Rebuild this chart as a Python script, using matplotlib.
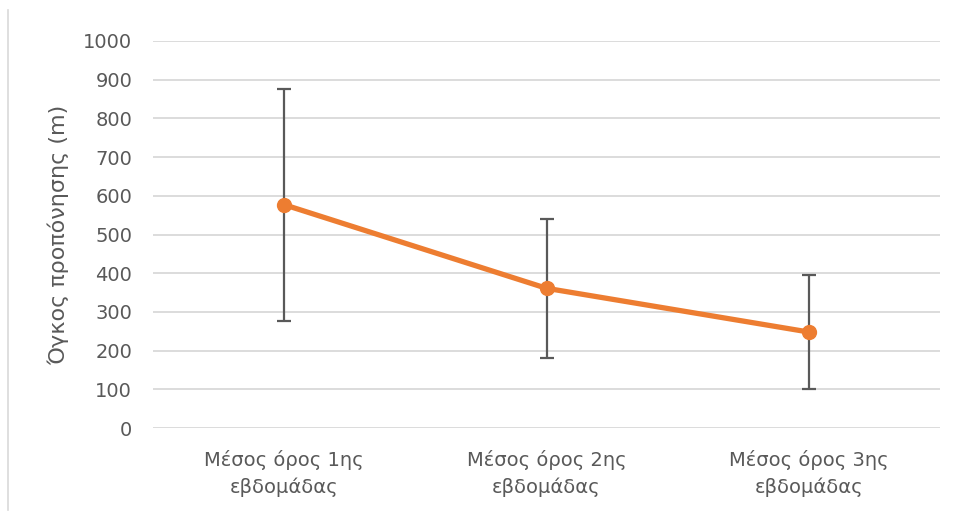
import matplotlib
matplotlib.use("Agg")
import matplotlib.pyplot as plt
from matplotlib.lines import Line2D

categories = ["Μέσος όρος 1ης\nεβδομάδας", "Μέσος όρος 2ης\nεβδομάδας", "Μέσος όρος 3ης\nεβδομάδας"]
means = [577, 361, 248]
errors = [300, 179, 147]
yticks = [0, 100, 200, 300, 400, 500, 600, 700, 800, 900, 1000]

plt.rcParams['font.family'] = ['DejaVu Sans']
fig = plt.figure(figsize=(9.61, 5.16), dpi=100)
ax = fig.add_axes([153/961, 1 - 428/516, (940-153)/961, (428-41)/516])

x = list(range(len(categories)))
ax.errorbar(x, means, yerr=errors, fmt='none', ecolor='#595959', elinewidth=1.6,
            capsize=5, capthick=1.6, zorder=3)
ax.plot(x, means, color='#ED7D31', lw=3.8, marker='o', markersize=10,
        zorder=4, solid_capstyle='round')

ax.set_xlim(-0.5, len(categories) - 0.5)
ax.set_ylim(0, 1000)
ax.set_yticks(yticks)
ax.set_yticklabels([str(v) for v in yticks], fontsize=14, color='#595959')
ax.set_xticks(x)
ax.set_xticklabels(categories, fontsize=14, color='#595959', linespacing=1.45)
ax.tick_params(axis='both', length=0)
ax.tick_params(axis='y', pad=15)
ax.tick_params(axis='x', pad=16)
ax.grid(axis='y', color='#D9D9D9', lw=1.3)
ax.set_axisbelow(True)
for s in ax.spines.values():
    s.set_visible(False)
ax.set_ylabel("Όγκος προπόνησης (m)", fontsize=16, color='#595959', labelpad=10)

fig.add_artist(Line2D([8/961, 8/961], [1 - 10/516, 1 - 510/516], color='#D9D9D9', lw=1.2))

fig.savefig("out.png", dpi=100)
